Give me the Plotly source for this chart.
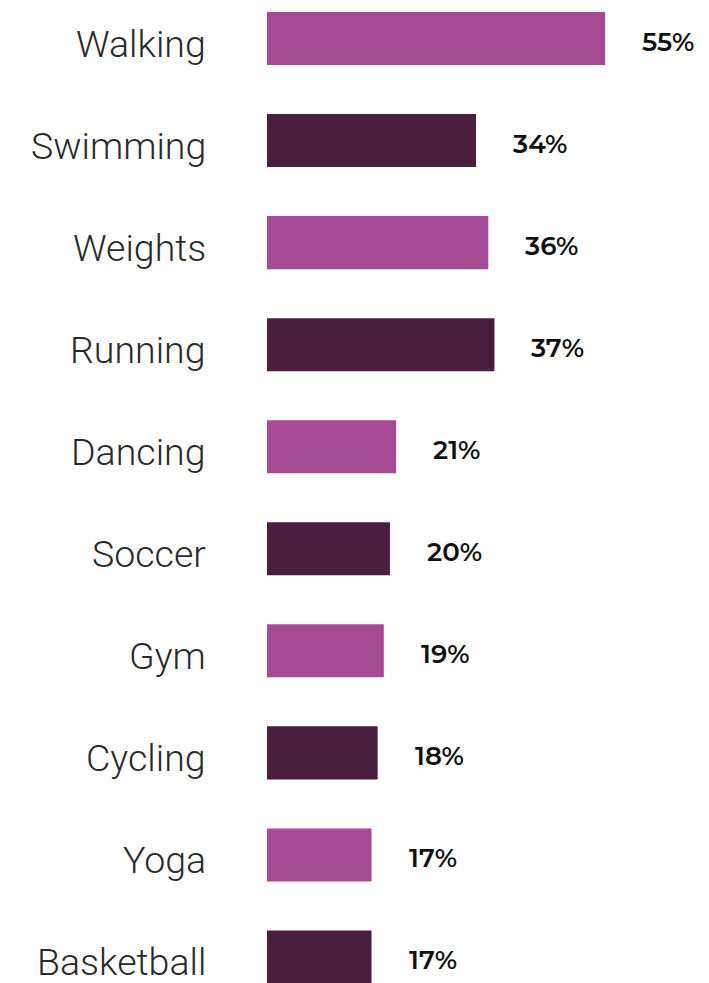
import plotly.graph_objects as go

categories = ["Walking", "Swimming", "Weights", "Running", "Dancing",
              "Soccer", "Gym", "Cycling", "Yoga", "Basketball"]
values = [55, 34, 36, 37, 21, 20, 19, 18, 17, 17]
labels = [f"{v}%" for v in values]
light = "#A64A93"
dark = "#4A1F3D"
colors = [light if i % 2 == 0 else dark for i in range(len(categories))]

fig = go.Figure()
fig.add_trace(go.Bar(
    x=values, y=categories, orientation="h",
    marker=dict(color=colors, line=dict(width=0)),
    hoverinfo="skip",
))

for c, v, t in zip(categories, values, labels):
    fig.add_annotation(
        x=v, y=c, text=t, showarrow=False, xanchor="left", yanchor="middle",
        xshift=35, yshift=-3,
        font=dict(family="Montserrat, Open Sans, sans-serif", size=26, color="#111111", weight=600),
    )
    fig.add_annotation(
        x=0, y=c, text=c, showarrow=False, xanchor="right", yanchor="middle",
        xshift=-59, yshift=-5,
        font=dict(family="Roboto", size=37.5, color="#2a2a2a", weight=300),
    )

fig.update_layout(
    width=701, height=975,
    margin=dict(l=259, r=0, t=0, b=0),
    paper_bgcolor="white", plot_bgcolor="white",
    bargap=0.48,
    showlegend=False,
    xaxis=dict(range=[0, 71.9], visible=False, fixedrange=True),
    yaxis=dict(
        categoryorder="array", categoryarray=categories,
        range=[9.255, -0.299],
        showgrid=False, zeroline=False, showline=False, ticks="",
        showticklabels=False,
    ),
)

fig.write_html("out.html")
